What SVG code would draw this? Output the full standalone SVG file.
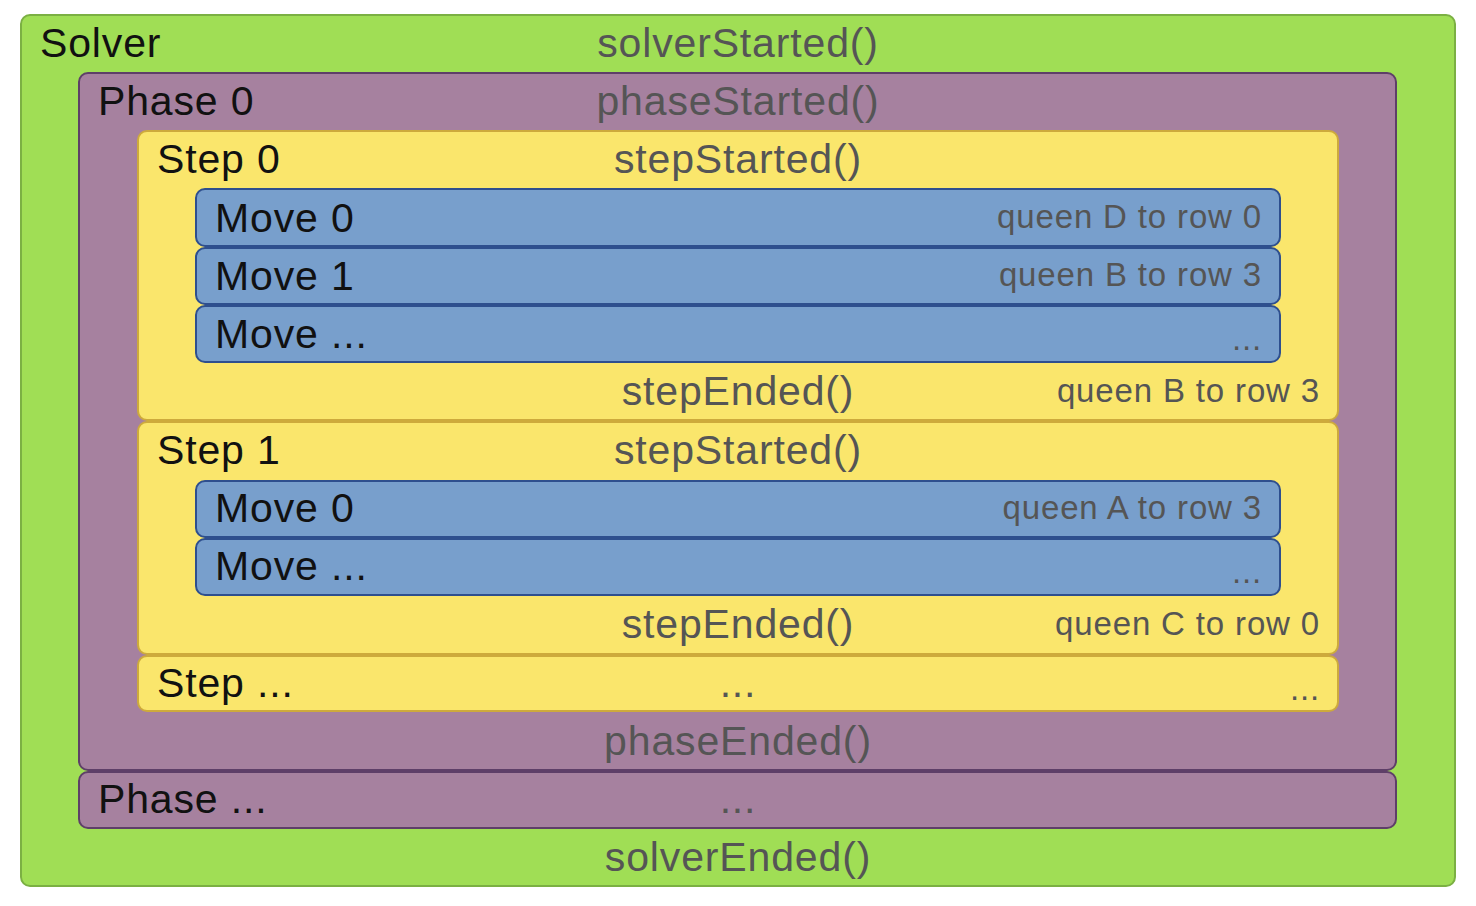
<svg xmlns="http://www.w3.org/2000/svg" width="1476" height="906" viewBox="0 0 1476 906">
<style>
.solver{fill:#a0de55;stroke:#7bb043;stroke-width:2}
.phase{fill:#a6819f;stroke:#5e3f68;stroke-width:2}
.step{fill:#fae66c;stroke:#cdaa3c;stroke-width:2}
.move{fill:#789fcc;stroke:#2e4f8e;stroke-width:2}
text{font-family:"Liberation Sans",Arial,sans-serif;letter-spacing:0.85px}
.title{font-size:41px;fill:#111}
.cb{font-size:41px;fill:#555;text-anchor:middle}
.rt{font-size:33px;fill:#555;text-anchor:end}
</style>
<rect width="1476" height="906" fill="#ffffff"/>
<g id="solver">
<rect class="solver" x="21" y="15" width="1434" height="871" rx="9"/>
<text class="title" x="40" y="57">Solver</text>
<text class="cb" x="738" y="57">solverStarted()</text>
<text class="cb" x="738" y="871">solverEnded()</text>
</g>
<g id="phase0">
<rect class="phase" x="79" y="73" width="1317" height="697" rx="9"/>
<text class="title" x="98" y="115">Phase 0</text>
<text class="cb" x="738" y="115">phaseStarted()</text>
<text class="cb" x="738" y="755">phaseEnded()</text>
</g>
<g id="phaseMore">
<rect class="phase" x="79" y="772" width="1317" height="56" rx="9"/>
<text class="title" x="98" y="813">Phase ...</text>
<text class="cb" x="738" y="813">...</text>
</g>
<g id="step0">
<rect class="step" x="138" y="131" width="1200" height="289" rx="9"/>
<text class="title" x="157" y="173">Step 0</text>
<text class="cb" x="738" y="173">stepStarted()</text>
<text class="cb" x="738" y="405">stepEnded()</text>
<text class="rt" x="1320" y="402">queen B to row 3</text>
</g>
<g id="step0move0">
<rect class="move" x="196" y="189" width="1084" height="57" rx="9"/>
<text class="title" x="215" y="232">Move 0</text>
<text class="rt" x="1262" y="228">queen D to row 0</text>
</g>
<g id="step0move1">
<rect class="move" x="196" y="248" width="1084" height="56" rx="9"/>
<text class="title" x="215" y="290">Move 1</text>
<text class="rt" x="1262" y="286">queen B to row 3</text>
</g>
<g id="step0moveMore">
<rect class="move" x="196" y="306" width="1084" height="56" rx="9"/>
<text class="title" x="215" y="348">Move ...</text>
<text class="rt" x="1262" y="350">...</text>
</g>
<g id="step1">
<rect class="step" x="138" y="422" width="1200" height="232" rx="9"/>
<text class="title" x="157" y="464">Step 1</text>
<text class="cb" x="738" y="464">stepStarted()</text>
<text class="cb" x="738" y="638">stepEnded()</text>
<text class="rt" x="1320" y="635">queen C to row 0</text>
</g>
<g id="step1move0">
<rect class="move" x="196" y="481" width="1084" height="56" rx="9"/>
<text class="title" x="215" y="522">Move 0</text>
<text class="rt" x="1262" y="519">queen A to row 3</text>
</g>
<g id="step1moveMore">
<rect class="move" x="196" y="539" width="1084" height="56" rx="9"/>
<text class="title" x="215" y="580">Move ...</text>
<text class="rt" x="1262" y="583">...</text>
</g>
<g id="stepMore">
<rect class="step" x="138" y="656" width="1200" height="55" rx="9"/>
<text class="title" x="157" y="697">Step ...</text>
<text class="cb" x="738" y="697">...</text>
<text class="rt" x="1320" y="700">...</text>
</g>
<g id="connectors"></g>
</svg>
